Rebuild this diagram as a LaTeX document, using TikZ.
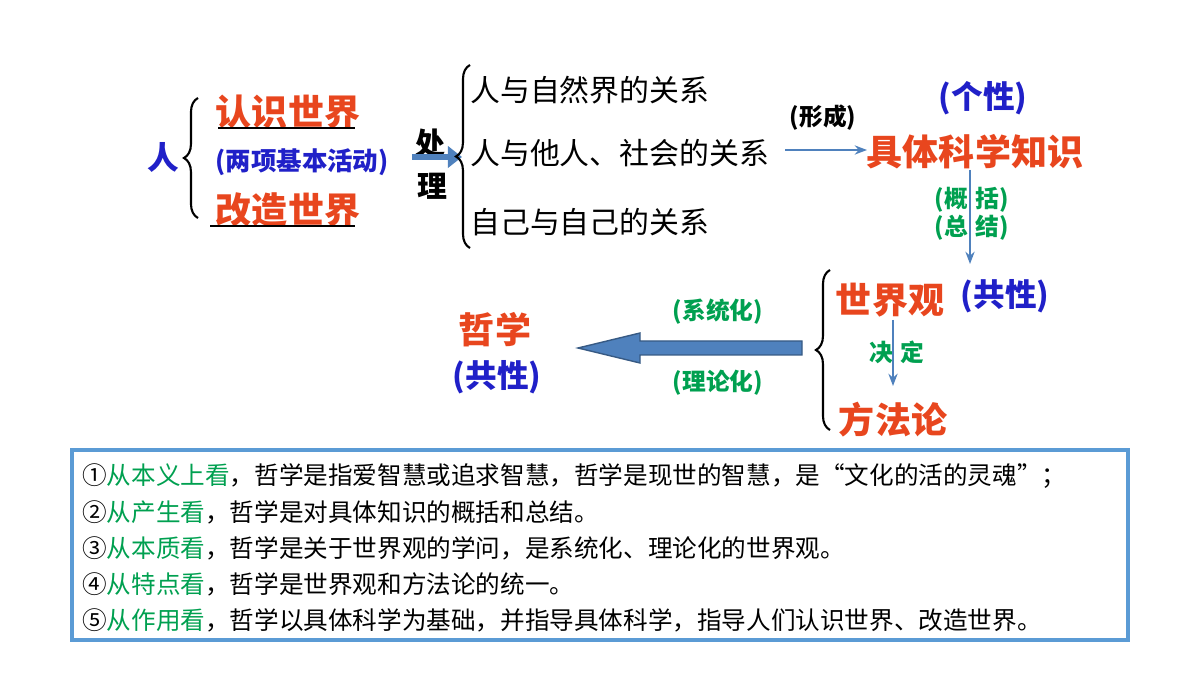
\documentclass[tikz,border=0pt]{standalone}
\usepackage{fontspec}
\setmainfont{Noto Sans CJK SC}
\usetikzlibrary{decorations.pathreplacing,arrows.meta}
\definecolor{rd}{HTML}{E8461E}
\definecolor{bl}{HTML}{2020C8}
\definecolor{gr}{HTML}{00A050}
\definecolor{ab}{HTML}{4F81BD}
\definecolor{bx}{HTML}{5B9BD5}
\newcommand{\fs}[1]{\fontsize{#1}{#1}\selectfont}
\tikzset{
 t/.style={inner sep=0pt,font=\bfseries},
 big/.style={t,text=rd,font=\fs{20.5pt}\bfseries},
 mid/.style={t,font=\fs{17pt}},
 lbl/.style={t,font=\fs{13.5pt}\bfseries},
 ln/.style={t,anchor=west,font=\fs{14pt}},
 br/.style={decorate,decoration={brace,amplitude=8pt},line width=1.2pt},
 thin/.style={draw=ab,line width=1pt,-{Stealth[length=7pt]}},
}
\begin{document}
\begin{tikzpicture}[x=0.02cm,y=-0.02cm]
\useasboundingbox (0,0) rectangle (1200,675);
\node[t,text=bl,font=\fs{18pt}\bfseries] (ren) at (163,157) {人};
\draw[br] (198,218) -- (198,98);
\node[big] (rs) at (288,112) {认识世界};
\draw[line width=1pt] (218,128) -- (355,128);
\node[lbl,text=bl,font=\fs{14.5pt}\bfseries] (lx) at (302,162) {(两项基本活动)};
\node[big] (gz) at (288,210) {改造世界};
\draw[line width=1pt] (210,226) -- (355,226);
\node[t,font=\fs{17pt}\bfseries] (chu) at (430,143) {处};
\node[t,font=\fs{17pt}\bfseries] (li) at (432,186) {理};
\coordinate (a1) at (412,157); \coordinate (a2) at (462,157);
\draw[thin,line width=3pt,-{Triangle[length=8pt,width=12pt]}] (a1) -- (a2);
\draw[br] (470,248) -- (470,65);
\node[mid,anchor=west] (r1) at (470,90) {人与自然界的关系};
\node[mid,anchor=west] (r2) at (470,153) {人与他人、社会的关系};
\node[mid,anchor=west] (r3) at (470,222) {自己与自己的关系};
\node[lbl] (xc) at (823,118) {(形成)};
\coordinate (b1) at (785,150); \coordinate (b2) at (867,150);
\draw[thin] (b1) -- (b2);
\node[t,text=bl,font=\fs{18pt}\bfseries] (gx) at (983,98) {(个性)};
\node[big] (jt) at (975,152) {具体科学知识};
\node[lbl,text=gr] (gk) at (972,200) {(概\,\,括)};
\node[lbl,text=gr] (zj) at (972,228) {(总\,\,结)};
\coordinate (c1) at (970,170); \coordinate (c2) at (970,264);
\draw[thin] (c1) -- (c2);
\node[t,text=bl,font=\fs{18pt}\bfseries] (gx2) at (1005,296) {(共性)};
\draw[br] (830,430) -- (830,270);
\node[big] (sj) at (890,300) {世界观};
\node[lbl,text=gr] (jd) at (897,352) {决\,\,定};
\coordinate (d1) at (893,320); \coordinate (d2) at (893,386);
\draw[thin] (d1) -- (d2);
\node[big] (ff) at (893,420) {方法论};
\draw[draw=ab!70!black,fill=ab,line width=0.8pt] (802,341) -- (640,341) -- (640,333) -- (578,348) -- (640,363) -- (640,355) -- (802,355) -- cycle;
\node[lbl,text=gr] (xt) at (718,312) {(系统化)};
\node[lbl,text=gr] (ll) at (718,383) {(理论化)};
\node[big] (zx) at (495,330) {哲学};
\node[t,text=bl,font=\fs{18pt}\bfseries] (gx3) at (497,377) {(共性)};
\draw[bx,line width=2pt] (72,450) rectangle (1128,640);
\node[ln] (l1) at (82,476) {①\textcolor{gr}{从本义上看}，哲学是指爱智慧或追求智慧，哲学是现世的智慧，是“文化的活的灵魂”；};
\node[ln] (l2) at (82,512) {②\textcolor{gr}{从产生看}，哲学是对具体知识的概括和总结。};
\node[ln] (l3) at (82,548) {③\textcolor{gr}{从本质看}，哲学是关于世界观的学问，是系统化、理论化的世界观。};
\node[ln] (l4) at (82,584) {④\textcolor{gr}{从特点看}，哲学是世界观和方法论的统一。};
\node[ln] (l5) at (82,620) {⑤\textcolor{gr}{从作用看}，哲学以具体科学为基础，并指导具体科学，指导人们认识世界、改造世界。};
\end{tikzpicture}
\end{document}
